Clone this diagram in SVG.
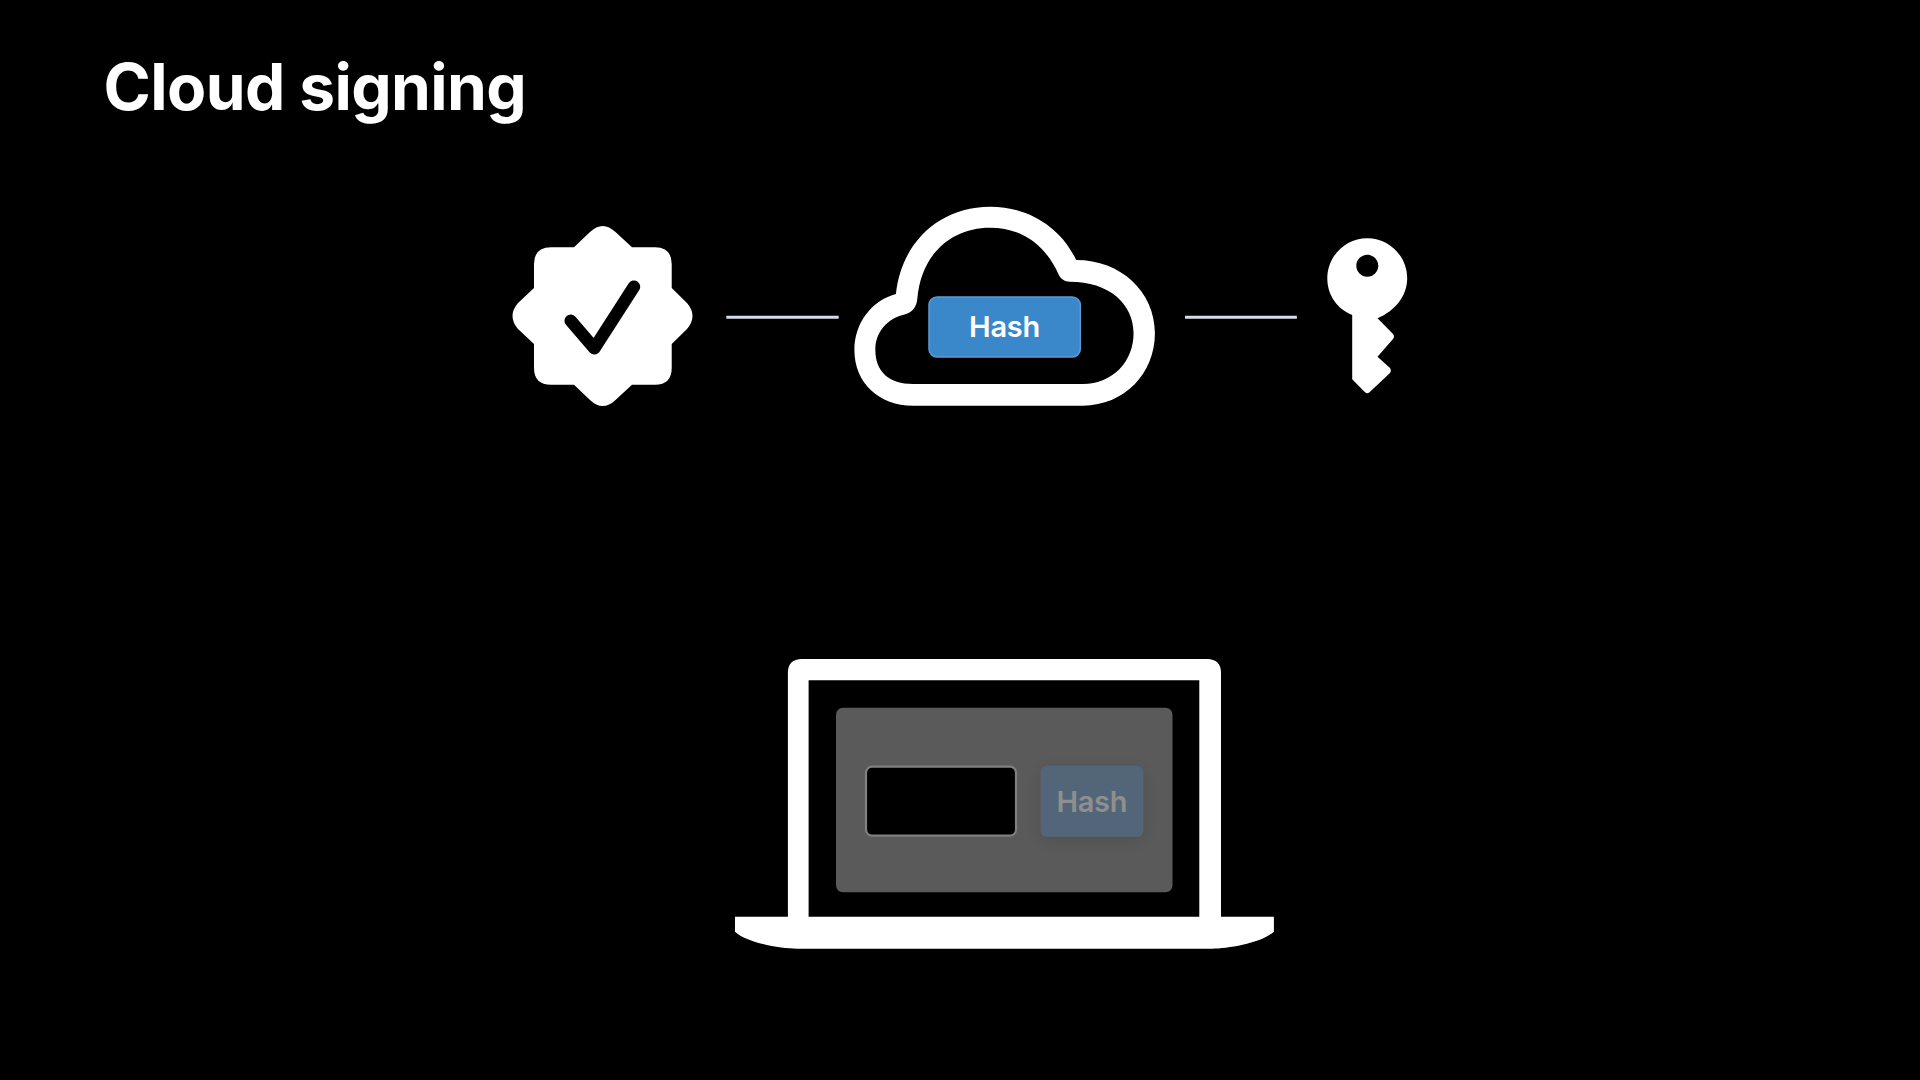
<svg xmlns="http://www.w3.org/2000/svg" width="1920" height="1080" viewBox="0 0 1920 1080">
<defs>
<style>
.w{fill:#fff}
.t{font-family:"Inter","Liberation Sans",sans-serif}
.h{font-size:29px;font-weight:600;letter-spacing:-0.3px;text-anchor:middle}
.c{stroke:#d6dde9;stroke-width:3;fill:none}
</style>
<filter id="sh" x="-30%" y="-30%" width="160%" height="170%"><feDropShadow dx="0" dy="4" stdDeviation="8" flood-color="#000" flood-opacity="0.12"/></filter>
</defs>
<rect width="1920" height="1080" fill="#000"/>
<g id="title"><text class="t" x="103.500" y="110" font-size="64" font-weight="700" letter-spacing="-0.6" fill="#fff">Cloud signing</text></g>
<g id="connectors">
<line class="c" x1="726.300" y1="317.300" x2="838.700" y2="317.300"/>
<line class="c" x1="1185" y1="317.300" x2="1296.900" y2="317.300"/>
</g>
<g id="badge">
<path class="w" d="M574,247.300 L590,232 Q602.700,220 615.500,232 L632,247.300 L655,247.300 Q671.700,247.300 671.700,264 L671.700,288 L687,303 Q698,316 687,329 L671.700,344 L671.700,368 Q671.700,384.700 655,384.700 L632,384.700 L615.500,400 Q602.700,412 590,400 L574,384.700 L551,384.700 Q534,384.700 534,368 L534,344 L518,329 Q507,316 518,303 L534,288 L534,264 Q534,247.300 551,247.300 Z"/>
<path d="M570.700,320.700 L594.300,348.300 L634,286.700" fill="none" stroke="#000" stroke-width="12.500" stroke-linecap="round" stroke-linejoin="round"/>
</g>
<g id="cloud">
<path class="w" fill-rule="evenodd" transform="translate(820 180) scale(0.39541 0.33333)" d="M235,677 L665,677 C770,677 847,580 847,460 C847,335 760,240 648,240 C610,145 530,80 430,80 C300,80 205,190 192,342 C130,362 87,430 87,510 C87,610 150,677 235,677 Z M235,612 L665,612 C740,612 793,545 793,460 C793,370 730,305 632,305 C618,305 608,296 603,282 C570,195 510,143 430,143 C330,143 255,225 246,358 C244,380 235,395 218,402 C170,415 140,455 140,510 C140,575 175,612 235,612 Z"/>
<rect x="929" y="297" width="151.300" height="60" rx="8" fill="#3a88ca" stroke="#5c9bd2" stroke-width="1.500"/>
<text class="t h" x="1004.500" y="337.300" fill="#fff">Hash</text>
</g>
<g id="key">
<path class="w" fill-rule="evenodd" d="M1352.200,315 C1337,309 1327.300,295 1327.300,278.300 C1327.300,256.300 1345.200,238.300 1367.300,238.300 C1389.300,238.300 1407.200,256.300 1407.200,278.300 C1407.200,296 1395,311 1377.500,318.300 L1393,334 Q1395,336.700 1393,339 L1377.500,356.700 L1390,368 Q1391.700,370.700 1390,373 L1369.500,392.300 Q1367.300,394 1365,392.300 L1352.200,379.300 Z M1367.300,254.700 C1361.200,254.700 1356.300,259.700 1356.300,265.700 C1356.300,271.700 1361.200,276.700 1367.300,276.700 C1373.400,276.700 1378.300,271.700 1378.300,265.700 C1378.300,259.700 1373.400,254.700 1367.300,254.700 Z"/>
</g>
<g id="laptop">
<path class="w" fill-rule="evenodd" d="M787.900,916.700 L787.900,673 Q787.900,659 801.900,659 L1207,659 Q1221,659 1221,673 L1221,916.700 L1273.900,916.700 L1273.900,931.700 C1262,943 1228,948.700 1212,948.700 L797,948.700 C781,948.700 747,943 735,931.700 L735,916.700 Z M808.600,680.300 L808.600,916.700 L1199.300,916.700 L1199.300,680.300 Z"/>
<rect x="836" y="707.700" width="336.500" height="184.600" rx="7" fill="#5a5a5a"/>
<rect x="866" y="766.700" width="150" height="69" rx="6" fill="#000" stroke="#808080" stroke-width="2.200"/>
<rect x="1040.700" y="765.700" width="102.500" height="71" rx="6" fill="#536679" filter="url(#sh)"/>
<text class="t h" x="1091.800" y="811.700" fill="#8f8f8f">Hash</text>
</g>
</svg>
